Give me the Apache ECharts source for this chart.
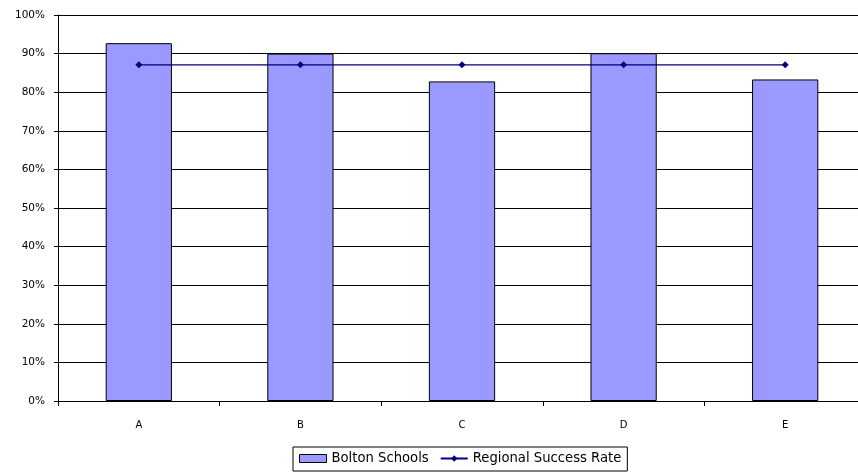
<!DOCTYPE html>
<html>
<head>
<meta charset="utf-8">
<script src="https://cdn.jsdelivr.net/npm/echarts@6/dist/echarts.min.js"></script>
<style>
html,body{margin:0;padding:0;background:#fff;overflow:hidden;}
#chart{width:868px;height:474px;}
</style>
</head>
<body>
<div id="chart"></div>
<script>
const categories = ['A', 'B', 'C', 'D', 'E'];
const boltonSchools = [92.7, 90.0, 82.8, 90.1, 83.3];
const regionalSuccessRate = [87.1, 87.1, 87.1, 87.1, 87.1];
const yTicks = [0, 10, 20, 30, 40, 50, 60, 70, 80, 90, 100];

const chart = echarts.init(document.getElementById('chart'), null, {renderer: 'canvas', width: 868, height: 474});
const font = '"DejaVu Sans", Verdana, sans-serif';
chart.setOption({
  animation: false,
  backgroundColor: '#ffffff',
  grid: {left: 58, top: 15, width: 808, height: 386, containLabel: false},
  legend: {
    top: 447,
    left: 293,
    itemGap: 11,
    itemWidth: 27,
    itemHeight: 8,
    padding: [5, 6, 6, 6],
    borderColor: '#000',
    borderWidth: 1,
    borderRadius: 0,
    textStyle: {fontFamily: font, fontSize: 13.2, color: '#000'},
    data: [
      {name: 'Bolton Schools', icon: 'rect', itemStyle: {borderColor: '#000', borderWidth: 1}},
      {name: 'Regional Success Rate'}
    ]
  },
  xAxis: {
    type: 'category',
    data: categories,
    axisLine: {lineStyle: {color: '#000', width: 1}},
    axisTick: {show: true, alignWithLabel: false, length: 5, inside: false, lineStyle: {color: '#000'}},
    axisLabel: {fontFamily: font, fontSize: 10, color: '#000', margin: 19}
  },
  yAxis: {
    type: 'value',
    min: yTicks[0],
    max: yTicks[yTicks.length - 1],
    interval: 10,
    axisLine: {show: true, lineStyle: {color: '#000', width: 1}},
    axisTick: {show: true, length: 4, lineStyle: {color: '#000'}},
    axisLabel: {fontFamily: font, fontSize: 10.5, color: '#000', margin: 13, formatter: '{value}%'},
    splitLine: {show: true, lineStyle: {color: '#000', width: 1}}
  },
  series: [
    {
      name: 'Bolton Schools',
      type: 'bar',
      data: boltonSchools,
      barWidth: '41%',
      itemStyle: {color: '#9999ff', borderColor: '#000', borderWidth: 1}
    },
    {
      name: 'Regional Success Rate',
      type: 'line',
      data: regionalSuccessRate,
      symbol: 'diamond',
      symbolSize: 7,
      lineStyle: {color: '#000080', width: 1.3},
      itemStyle: {color: '#000080'}
    }
  ]
});
</script>
</body>
</html>
